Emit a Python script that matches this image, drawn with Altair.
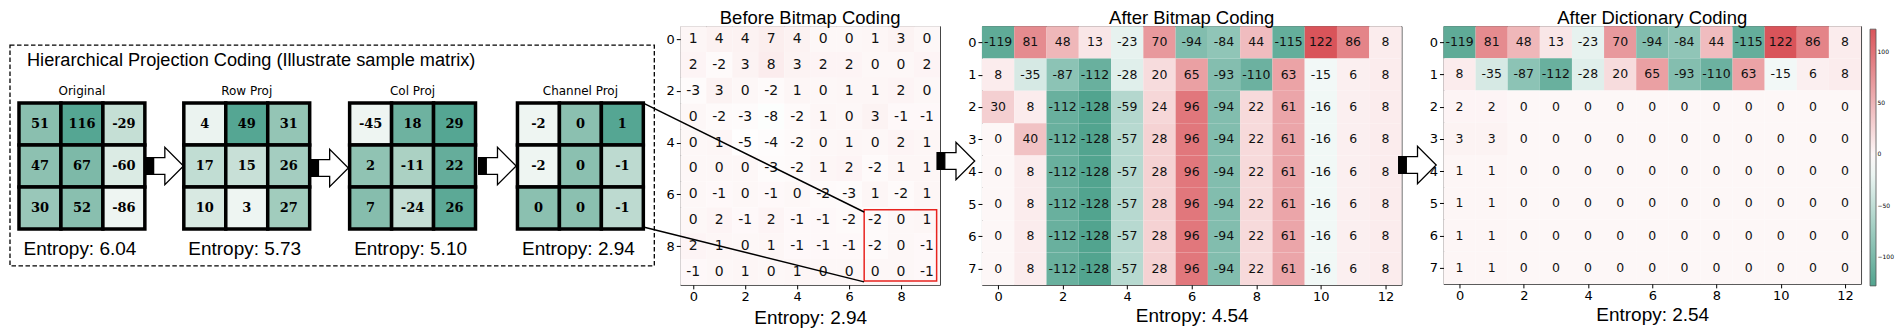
import altair as alt
import pandas as pd

# ---------------- data ----------------
HPC_TITLE = "Hierarchical Projection Coding (Illustrate sample matrix)"
SMALL_NAMES = ["Original", "Row Proj", "Col Proj", "Channel Proj"]
SMALL_ENTROPY = ["Entropy: 6.04", "Entropy: 5.73", "Entropy: 5.10", "Entropy: 2.94"]
ORIGINAL = [[51, 116, -29], [47, 67, -60], [30, 52, -86]]
ROW_PROJ = [[4, 49, 31], [17, 15, 26], [10, 3, 27]]
COL_PROJ = [[-45, 18, 29], [2, -11, 22], [7, -24, 26]]
CHANNEL_PROJ = [[-2, 0, 1], [-2, 0, -1], [0, 0, -1]]

BEFORE = [
    [1, 4, 4, 7, 4, 0, 0, 1, 3, 0],
    [2, -2, 3, 8, 3, 2, 2, 0, 0, 2],
    [-3, 3, 0, -2, 1, 0, 1, 1, 2, 0],
    [0, -2, -3, -8, -2, 1, 0, 3, -1, -1],
    [0, 1, -5, -4, -2, 0, 1, 0, 2, 1],
    [0, 0, 0, -3, -2, 1, 2, -2, 1, 1],
    [0, -1, 0, -1, 0, -2, -3, 1, -2, 1],
    [0, 2, -1, 2, -1, -1, -2, -2, 0, 1],
    [2, 1, 0, 1, -1, -1, -1, -2, 0, -1],
    [-1, 0, 1, 0, 1, 0, 0, 0, 0, -1],
]
AFTER_BITMAP = [
    [-119, 81, 48, 13, -23, 70, -94, -84, 44, -115, 122, 86, 8],
    [8, -35, -87, -112, -28, 20, 65, -93, -110, 63, -15, 6, 8],
    [30, 8, -112, -128, -59, 24, 96, -94, 22, 61, -16, 6, 8],
    [0, 40, -112, -128, -57, 28, 96, -94, 22, 61, -16, 6, 8],
    [0, 8, -112, -128, -57, 28, 96, -94, 22, 61, -16, 6, 8],
    [0, 8, -112, -128, -57, 28, 96, -94, 22, 61, -16, 6, 8],
    [0, 8, -112, -128, -57, 28, 96, -94, 22, 61, -16, 6, 8],
    [0, 8, -112, -128, -57, 28, 96, -94, 22, 61, -16, 6, 8],
]
AFTER_DICT = [
    [-119, 81, 48, 13, -23, 70, -94, -84, 44, -115, 122, 86, 8],
    [8, -35, -87, -112, -28, 20, 65, -93, -110, 63, -15, 6, 8],
    [2, 2, 0, 0, 0, 0, 0, 0, 0, 0, 0, 0, 0],
    [3, 3, 0, 0, 0, 0, 0, 0, 0, 0, 0, 0, 0],
    [1, 1, 0, 0, 0, 0, 0, 0, 0, 0, 0, 0, 0],
    [1, 1, 0, 0, 0, 0, 0, 0, 0, 0, 0, 0, 0],
    [1, 1, 0, 0, 0, 0, 0, 0, 0, 0, 0, 0, 0],
    [1, 1, 0, 0, 0, 0, 0, 0, 0, 0, 0, 0, 0],
]
PANEL_TITLES = ["Before Bitmap Coding", "After Bitmap Coding", "After Dictionary Coding"]
PANEL_ENTROPY = ["Entropy: 2.94", "Entropy: 4.54", "Entropy: 2.54"]
HIGHLIGHT_ROWS = [7, 9]
HIGHLIGHT_COLS = [7, 9]
BEFORE_TICKS = [0, 2, 4, 6, 8]
AFTER_XTICKS = [0, 2, 4, 6, 8, 10, 12]
AFTER_YTICKS = [0, 1, 2, 3, 4, 5, 6, 7]
COLORBAR_TICKS = [-100, -50, 0, 50, 100]
COLOR_MIN, COLOR_MID, COLOR_MAX = -128, -6, 122

# ---------------- styles ----------------
TEAL, WHITE, RED = "#52a48f", "#ffffff", "#d9545a"
SMALL_LIGHT, SMALL_DARK = "#eef5f2", "#55a693"
SANS = "Liberation Sans"
MPL = "DejaVu Sans"
ARROW_BODY = "M -1 -0.45 L 0 -0.45 L 0 -1 L 1 0 L 0 1 L 0 0.45 L -1 0.45 Z"
ARROW_TAIL = "M -1 -0.45 L -0.6 -0.45 L -0.6 0.45 L -1 0.45 Z"
ARROW_SIZE = 1400
ONE = pd.DataFrame({"k": [0]})


def to_long(m):
    rows = []
    for r, row in enumerate(m):
        for c, v in enumerate(row):
            rows.append({"row": r, "col": c, "val": v, "label": str(v)})
    return pd.DataFrame(rows)


def arrow(x, y):
    body = alt.Chart(ONE).mark_point(
        shape=ARROW_BODY, size=ARROW_SIZE, filled=True, fill="white", stroke="black",
        strokeWidth=1.3, opacity=1
    ).encode(x=alt.value(x), y=alt.value(y))
    tail = alt.Chart(ONE).mark_point(
        shape=ARROW_TAIL, size=ARROW_SIZE, filled=True, fill="black", stroke="black",
        strokeWidth=1.3, opacity=1
    ).encode(x=alt.value(x), y=alt.value(y))
    return [body, tail]


def small_matrix(m, name, ent, x0, y0, size=126):
    df = to_long(m)
    xs = alt.Scale(domain=[-0.5, 2.5], range=[x0, x0 + size], nice=False, zero=False)
    ys = alt.Scale(domain=[-0.5, 2.5], range=[y0, y0 + size], nice=False, zero=False)
    base = alt.Chart(df).transform_calculate(
        c0="datum.col - 0.5", c1="datum.col + 0.5",
        r0="datum.row - 0.5", r1="datum.row + 0.5")
    rect = base.mark_rect(stroke="black", strokeWidth=3.5).encode(
        x=alt.X("c0:Q", scale=xs, axis=None), x2="c1:Q",
        y=alt.Y("r0:Q", scale=ys, axis=None), y2="r1:Q",
        color=alt.Color("val:Q", scale=alt.Scale(range=[SMALL_LIGHT, SMALL_DARK],
                                                 zero=False, nice=False), legend=None))
    text = base.mark_text(font="DejaVu Serif", fontWeight="bold", fontSize=13,
                          color="black").encode(
        x=alt.X("col:Q", scale=xs, axis=None),
        y=alt.Y("row:Q", scale=ys, axis=None),
        text="label:N")
    title = alt.Chart(pd.DataFrame({"t": [name]})).mark_text(
        font=MPL, fontSize=12, baseline="alphabetic", color="black").encode(
        x=alt.datum(1, scale=xs), y=alt.value(y0 - 8), text="t:N")
    entropy = alt.Chart(pd.DataFrame({"t": [ent]})).mark_text(
        font=SANS, fontSize=19, baseline="alphabetic", color="black", dx=-2).encode(
        x=alt.datum(1, scale=xs), y=alt.value(229), text="t:N")
    return alt.layer(rect, text, title, entropy)


# ---------------- left (hierarchical projection) panel ----------------
box = alt.Chart(ONE).mark_rect(fillOpacity=0, stroke="black", strokeWidth=1.3,
                               strokeDash=[4.5, 2.5]).encode(
    x=alt.value(0), x2=alt.value(645), y=alt.value(19), y2=alt.value(240))
big_title = alt.Chart(pd.DataFrame({"t": [HPC_TITLE]})).mark_text(
    font=SANS, fontSize=18.2, align="left", baseline="alphabetic", color="black").encode(
    x=alt.value(17), y=alt.value(40), text="t:N")

mats = [ORIGINAL, ROW_PROJ, COL_PROJ, CHANNEL_PROJ]
mx = [9, 174, 340, 508]
small_layers = [small_matrix(m, n, e, x, 77)
                for m, n, e, x in zip(mats, SMALL_NAMES, SMALL_ENTROPY, mx)]
arrow_layers = arrow(155, 140) + arrow(320, 142) + arrow(488, 140)

left = alt.layer(box, big_title, *arrow_layers, *small_layers).resolve_scale(
    x="independent", y="independent", color="independent"
).properties(width=629, height=259, view=alt.ViewBackground(stroke="transparent"))


# ---------------- heatmap panels ----------------
def color_scale():
    return alt.Scale(domain=[COLOR_MIN, COLOR_MID, COLOR_MAX], range=[TEAL, WHITE, RED],
                     interpolate="rgb")


def panel_title(t):
    return alt.TitleParams(t, font=SANS, fontSize=18.5, fontWeight="normal",
                           color="black", offset=-1)


def heatmap(m, ent, xticks, yticks, font_size, legend, title_pad):
    df = to_long(m)
    nrow, ncol = len(m), len(m[0])
    xs = alt.Scale(domain=[-0.5, ncol - 0.5], nice=False, zero=False)
    ys = alt.Scale(domain=[-0.5, nrow - 0.5], nice=False, zero=False, reverse=True)
    xaxis = alt.Axis(values=xticks, title=ent, titleFont=SANS, titleFontSize=19,
                     titleFontWeight="normal", titleColor="black", titlePadding=title_pad,
                     labelFont=MPL, labelFontSize=13, labelColor="black", labelPadding=2,
                     labelOverlap=False, tickSize=4, tickColor="black", domain=False,
                     grid=False, format="d", zindex=1)
    yaxis = alt.Axis(values=yticks, title=None, labelFont=MPL, labelFontSize=13,
                     labelColor="black", labelPadding=2, labelOverlap=False, tickSize=4,
                     tickColor="black", domain=False, grid=False, format="d", zindex=1)
    base = alt.Chart(df).transform_calculate(
        c0="datum.col - 0.5", c1="datum.col + 0.5",
        r0="datum.row - 0.5", r1="datum.row + 0.5")
    rect = base.mark_rect(strokeWidth=0).encode(
        x=alt.X("c0:Q", scale=xs, axis=xaxis), x2="c1:Q",
        y=alt.Y("r0:Q", scale=ys, axis=yaxis), y2="r1:Q",
        color=alt.Color("val:Q", scale=color_scale(), legend=legend))
    text = base.mark_text(font=MPL, fontSize=font_size, color="#111111").encode(
        x=alt.X("col:Q", scale=xs, axis=xaxis), y=alt.Y("row:Q", scale=ys, axis=yaxis),
        text="label:N")
    return rect, text, xs, ys


b_rect, b_text, bxs, bys = heatmap(BEFORE, PANEL_ENTROPY[0], BEFORE_TICKS, BEFORE_TICKS,
                                   14, None, 5)
hl = pd.DataFrame({"r0": [HIGHLIGHT_ROWS[0]], "r1": [HIGHLIGHT_ROWS[1]],
                   "c0": [HIGHLIGHT_COLS[0]], "c1": [HIGHLIGHT_COLS[1]]})
red_box = alt.Chart(hl).transform_calculate(
    xa="datum.c0 - 0.42", xb="datum.c1 + 0.37",
    ya="datum.r0 - 0.4", yb="datum.r1 + 0.35").mark_rect(
    fillOpacity=0, stroke="#e8231f", strokeWidth=1.5).encode(
    x=alt.X("xa:Q", scale=bxs), x2="xb:Q", y=alt.Y("ya:Q", scale=bys), y2="yb:Q")
line_top = alt.Chart(ONE).mark_rule(stroke="black", strokeWidth=1.5).encode(
    x=alt.value(-37), y=alt.value(77), x2=alt.value(184), y2=alt.value(186))
line_bot = alt.Chart(ONE).mark_rule(stroke="black", strokeWidth=1.5).encode(
    x=alt.value(-37), y=alt.value(201), x2=alt.value(184), y2=alt.value(256))
before = alt.layer(b_rect, b_text, red_box, line_top, line_bot).properties(
    width=260, height=259, title=panel_title(PANEL_TITLES[0]))

a_rect, a_text, _, _ = heatmap(AFTER_BITMAP, PANEL_ENTROPY[1], AFTER_XTICKS, AFTER_YTICKS,
                               12.5, None, 3)
after = alt.layer(a_rect, a_text, *arrow(-26, 135)).properties(
    width=420, height=259, title=panel_title(PANEL_TITLES[1]))

legend = alt.Legend(orient="none", legendX=427, legendY=3, direction="vertical",
                    gradientLength=257, gradientThickness=6, values=COLORBAR_TICKS,
                    labelFontSize=6, labelFont=MPL, labelColor="black", title=None,
                    gradientStrokeColor="#555555", gradientStrokeWidth=0.8,
                    labelOffset=1.5, padding=0)
d_rect, d_text, _, _ = heatmap(AFTER_DICT, PANEL_ENTROPY[2], AFTER_XTICKS, AFTER_YTICKS,
                               12.5, legend, 3)
dictp = alt.layer(d_rect, d_text, *arrow(-26, 139)).properties(
    width=418, height=258, title=panel_title(PANEL_TITLES[2]))

chart = alt.hconcat(left, before, after, dictp, spacing=42, bounds="flush").resolve_scale(
    color="independent", x="independent", y="independent"
).properties(padding=0).configure_view(stroke="#444444", strokeWidth=1)

chart.save("out.html", embed_options={"renderer": "svg", "actions": False})
